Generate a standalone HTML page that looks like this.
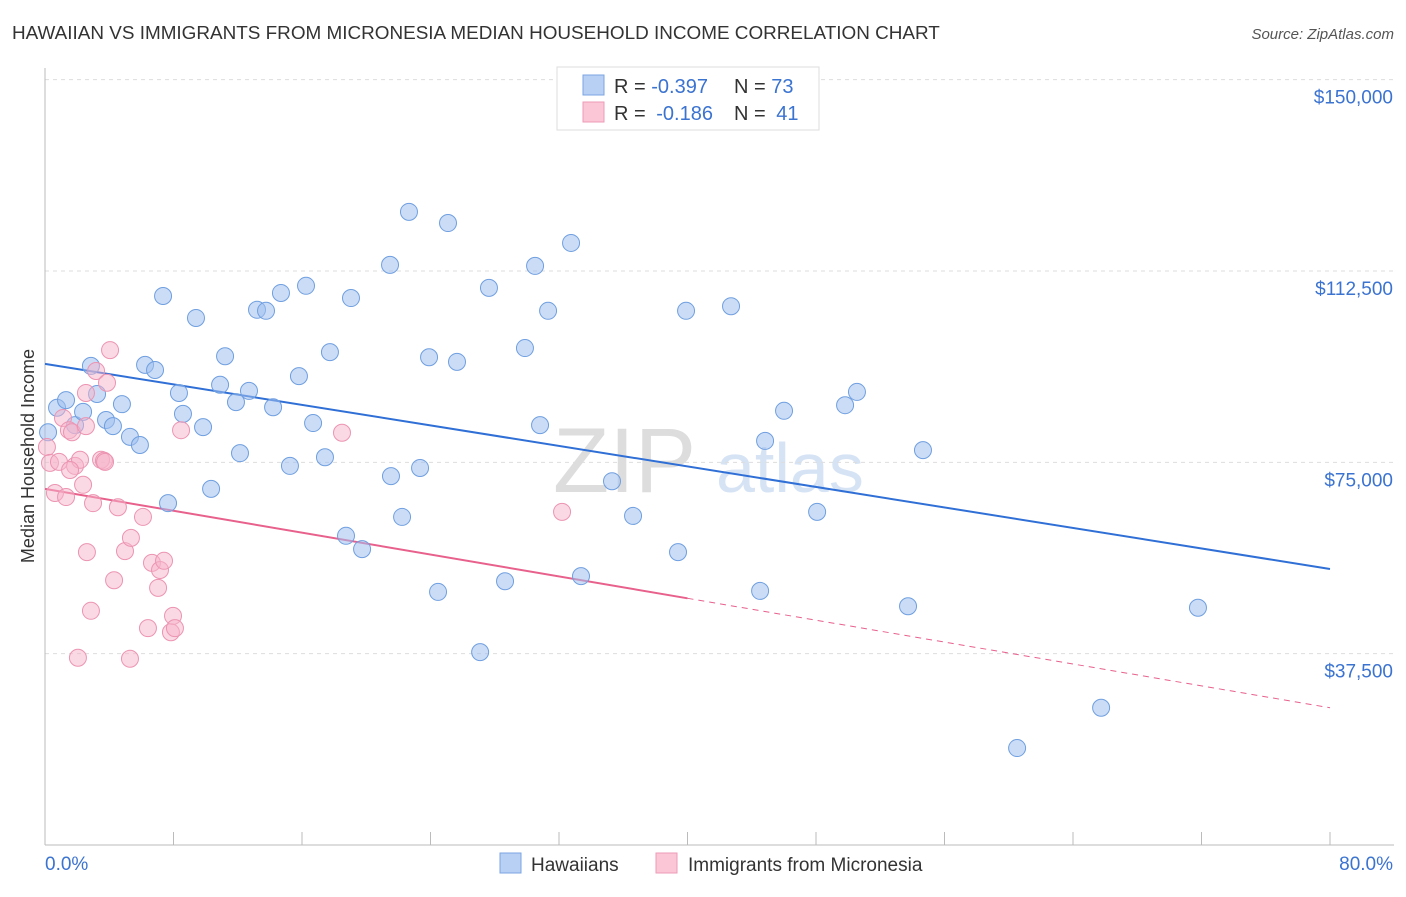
<!DOCTYPE html>
<html><head><meta charset="utf-8"><style>
body{margin:0;background:#fff;font-family:"Liberation Sans",sans-serif;}
svg text{font-family:"Liberation Sans",sans-serif;}
</style></head><body>
<svg id="chart" width="1406" height="892" xmlns="http://www.w3.org/2000/svg">
<text x="12" y="39" font-size="18.9" fill="#333">HAWAIIAN VS IMMIGRANTS FROM MICRONESIA MEDIAN HOUSEHOLD INCOME CORRELATION CHART</text>
<text x="1394" y="39" font-size="15" fill="#555" text-anchor="end" font-style="italic">Source: ZipAtlas.com</text>
<text transform="translate(34,456) rotate(-90)" font-size="18" fill="#333" text-anchor="middle">Median Household Income</text>
<g><text x="553" y="492" font-size="92" fill="#ddd" font-family="Liberation Serif">ZIP</text><text x="716" y="492" font-size="70" fill="#d5e3f5">atlas</text></g>
<g id="grid"></g><g id="axes"></g><g id="trends"></g><g id="pts"></g>
<g>
<rect x="557" y="67" width="262" height="63" fill="#fff" stroke="#ddd"/>
<rect x="583" y="75" width="21" height="20" fill="#b8d0f3" stroke="#7aa5e0"/>
<rect x="583" y="102" width="21" height="20" fill="#fbc6d6" stroke="#ee9bb6"/>
<text x="614" y="93" font-size="20" fill="#333">R = <tspan fill="#3b73d1">-0.397</tspan><tspan x="734">N = </tspan><tspan fill="#3b73d1">73</tspan></text>
<text x="614" y="120" font-size="20" fill="#333">R = <tspan fill="#3b73d1" dx="5">-0.186</tspan><tspan x="734">N = </tspan><tspan fill="#3b73d1" dx="5">41</tspan></text>
</g>
<g>
<rect x="500" y="853" width="21" height="20" fill="#b8d0f3" stroke="#7aa5e0"/>
<text x="531" y="871" font-size="19" fill="#333">Hawaiians</text>
<rect x="656" y="853" width="21" height="20" fill="#fbc6d6" stroke="#ee9bb6"/>
<text x="688" y="871" font-size="19" fill="#333">Immigrants from Micronesia</text>
</g>
</svg>
<script>
const yTicks=[37500,75000,112500,150000];
const yTickLabels=["$37,500","$75,000","$112,500","$150,000"];
const xTickLabels=["0.0%","80.0%"];
const hawX=[0.75,1.31,1.87,2.37,2.86,3.24,3.80,4.23,4.79,5.29,5.91,6.23,6.85,7.35,7.66,8.34,8.59,9.40,9.84,10.34,10.90,11.21,11.89,12.14,12.70,13.20,13.76,14.20,14.69,15.25,15.81,16.25,16.69,17.43,17.74,18.74,19.05,19.74,21.48,21.54,22.23,22.66,23.35,23.91,24.47,25.09,25.65,27.09,27.64,28.64,29.88,30.51,30.82,31.32,32.75,33.37,35.30,36.61,39.41,39.91,42.71,44.52,44.83,46.01,48.07,49.81,50.55,53.73,54.66,60.52,65.75,71.78,0.19];
const hawY=[85.7,87.2,82.3,84.9,93.9,88.4,83.3,82.1,86.4,80.0,78.4,94.1,93.1,107.6,67.0,88.6,84.5,103.3,81.9,69.8,90.2,95.8,86.8,76.8,89.0,104.9,104.7,85.8,108.2,74.3,91.9,109.6,82.7,76.0,96.6,60.6,107.2,58.0,113.7,72.3,64.3,124.1,73.9,95.6,49.6,121.9,94.7,37.8,109.2,51.7,97.4,113.5,82.3,104.7,118.0,52.7,71.3,64.5,57.4,104.7,105.6,49.8,79.2,85.1,65.3,86.2,88.8,46.8,77.4,19.0,26.9,46.5,80.9];
const micX=[0.12,0.31,0.62,0.87,1.12,1.31,1.49,1.68,1.87,2.05,2.18,2.37,2.61,2.55,2.86,2.99,3.18,3.49,3.67,3.86,4.05,4.30,4.54,4.98,5.29,5.35,6.10,6.41,6.66,7.04,7.16,7.41,7.84,7.97,8.09,8.47,18.49,32.19,2.55,1.56,3.74];
const micY=[78.0,74.9,69.0,75.1,83.7,68.2,81.3,80.9,74.3,36.7,75.5,70.6,57.4,88.6,45.9,67.0,92.9,75.5,75.3,90.6,97.0,51.9,66.2,57.6,36.5,60.2,64.3,42.5,55.3,50.4,53.9,55.7,41.7,44.9,42.5,81.3,80.8,65.3,82.1,73.5,75.1];
const hawTrend=[94.3,54.1];
const micTrend=[69.8,26.9];
const NS="http://www.w3.org/2000/svg";
const X=v=>45+v/80*1285, Y=v=>845-v/37500*191.33;
function mk(tag,attrs,parent){const e=document.createElementNS(NS,tag);for(const k in attrs)e.setAttribute(k,attrs[k]);document.getElementById(parent).appendChild(e);return e;}
yTicks.forEach((t,i)=>{
 let g=mk('line',{x1:45,x2:1394,y1:Y(t),y2:Y(t),stroke:'#ddd','stroke-dasharray':'4,4'},'grid');
 
 
 let l=mk('text',{x:1393,y:Y(t)+24,'font-size':19,fill:'#3b73d1','text-anchor':'end'},'grid');
 l.textContent=yTickLabels[i];
 
 
});
let axX=mk('line',{x1:45,x2:1394,y1:845,y2:845,stroke:'#bbb'},'axes');


let axY=mk('line',{x1:45,x2:45,y1:68,y2:845,stroke:'#bbb'},'axes');


for(let i=0;i<=10;i++){let t=mk('line',{x1:X(i*8),x2:X(i*8),y1:832,y2:845,stroke:'#bbb'},'axes');
 
 }
let xl0=mk('text',{x:45,y:870,'font-size':19,fill:'#3b73d1'},'axes');xl0.textContent=xTickLabels[0];


let xl1=mk('text',{x:1393,y:870,'font-size':19,fill:'#3b73d1','text-anchor':'end'},'axes');xl1.textContent=xTickLabels[1];


let bt=mk('line',{x1:X(0),y1:Y(hawTrend[0]*1000),x2:X(80),y2:Y(hawTrend[1]*1000),stroke:'#2f6fd6','stroke-width':2},'trends');


const pm=(micTrend[0]+micTrend[1])/2;
let pt=mk('line',{x1:X(0),y1:Y(micTrend[0]*1000),x2:X(40),y2:Y(pm*1000),stroke:'#e8608c','stroke-width':2},'trends');


let pd=mk('line',{x1:X(40),y1:Y(pm*1000),x2:X(80),y2:Y(micTrend[1]*1000),stroke:'#e8608c','stroke-width':1,'stroke-dasharray':'6,5'},'trends');


hawX.forEach((x,i)=>{let c=mk('circle',{cx:X(x),cy:Y(hawY[i]*1000),r:8.5,fill:'rgba(160,192,238,0.55)',stroke:'#6f9fe0','stroke-width':1},'pts');
 
 });
micX.forEach((x,i)=>{let c=mk('circle',{cx:X(x),cy:Y(micY[i]*1000),r:8.5,fill:'rgba(246,180,202,0.5)',stroke:'#ec94b2','stroke-width':1},'pts');
 
 });
</script>
</body></html>
